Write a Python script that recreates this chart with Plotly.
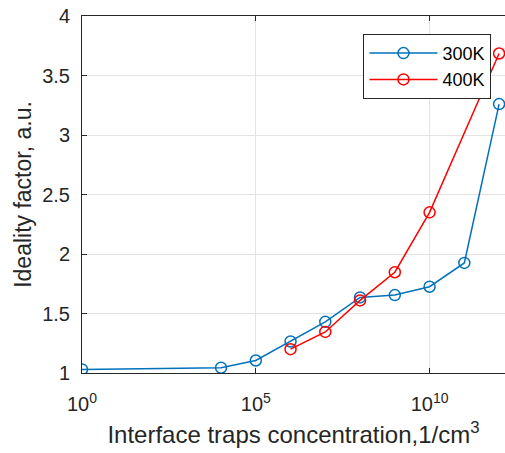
import plotly.graph_objects as go

# Interface trap concentration (1/cm^3) and ideality factor per temperature
conc_300k = [1e0, 1e4, 1e5, 1e6, 1e7, 1e8, 1e9, 1e10, 1e11, 1e12]
ideality_300k = [1.03, 1.045, 1.105, 1.265, 1.43, 1.635, 1.655, 1.725, 1.925, 3.26]

conc_400k = [1e6, 1e7, 1e8, 1e9, 1e10, 1e12]
ideality_400k = [1.20, 1.345, 1.61, 1.847, 2.35, 3.685]

x_tickvals = [1e0, 1e5, 1e10]
x_ticktext = ["10<sup>0</sup>", "10<sup>5</sup>", "10<sup>10</sup>"]
y_tickvals = [1, 1.5, 2, 2.5, 3, 3.5, 4]
y_ticktext = ["1", "1.5", "2", "2.5", "3", "3.5", "4"]

FONT = "Liberation Sans, Arial, sans-serif"
AX = "#262626"

fig = go.Figure()
fig.add_trace(go.Scatter(
    x=conc_300k, y=ideality_300k, name="300K", mode="lines+markers",
    line=dict(color="#0072BD", width=1.5),
    marker=dict(symbol="circle-open", size=11, line=dict(width=1.5, color="#0072BD")),
))
fig.add_trace(go.Scatter(
    x=conc_400k, y=ideality_400k, name="400K", mode="lines+markers",
    line=dict(color="#FF0000", width=1.5),
    marker=dict(symbol="circle-open", size=11, line=dict(width=1.5, color="#FF0000")),
))

fig.update_layout(
    width=505, height=453,
    margin=dict(l=82, r=0, t=16, b=80),
    paper_bgcolor="white", plot_bgcolor="white",
    font=dict(family=FONT, size=20, color=AX),
    legend=dict(
        x=0.968, y=0.95, xanchor="right", yanchor="top",
        bgcolor="white", bordercolor=AX, borderwidth=1,
        font=dict(family=FONT, size=18, color="#000000"),
        itemwidth=68, tracegroupgap=0,
    ),
    xaxis=dict(
        type="log", range=[0, 12.17],
        tickvals=x_tickvals, ticktext=x_ticktext,
        tickfont=dict(family=FONT, size=20, color=AX),
        showgrid=True, gridcolor="#e3e3e3", gridwidth=1,
        showline=True, linecolor=AX, linewidth=1, mirror="ticks",
        ticks="inside", ticklen=5, tickcolor=AX,
        zeroline=False, ticklabelstandoff=13,
        title=dict(text="Interface traps concentration,1/cm<sup>3</sup>",
                   font=dict(family=FONT, size=24, color=AX), standoff=12),
    ),
    yaxis=dict(
        range=[1, 4], tickvals=y_tickvals, ticktext=y_ticktext,
        tickfont=dict(family=FONT, size=20, color=AX),
        showgrid=True, gridcolor="#e3e3e3", gridwidth=1,
        showline=True, linecolor=AX, linewidth=1, mirror=False,
        ticks="inside", ticklen=5, tickcolor=AX,
        zeroline=False, ticklabelstandoff=7,
        title=dict(text="Ideality factor, a.u.",
                   font=dict(family=FONT, size=23, color=AX), standoff=4),
    ),
)

fig.write_html("out.html")
